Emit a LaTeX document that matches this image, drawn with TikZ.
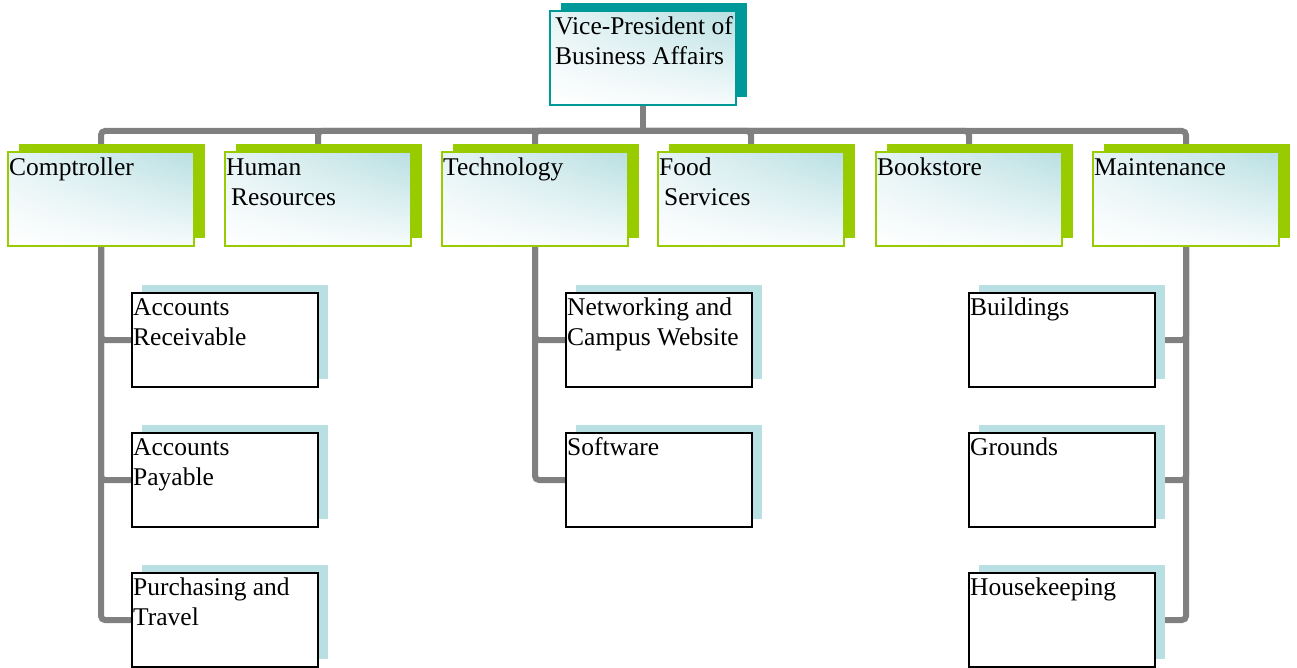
\documentclass[tikz,border=0pt]{standalone}
\usepackage{fontspec}
\setmainfont{Liberation Serif}
\usetikzlibrary{shadings}
\definecolor{lgreen}{RGB}{153,204,0}
\definecolor{vteal}{RGB}{0,153,153}
\definecolor{lteal}{RGB}{184,223,226}
\definecolor{cgray}{RGB}{128,128,128}
\pgfdeclarelayer{background}
\pgfsetlayers{background,main}
\begin{document}
\begin{tikzpicture}[x=1pt,y=-1pt,
 bx/.style={rectangle, anchor=north west, inner sep=0pt, outer sep=0pt, minimum width=186pt, minimum height=94pt},
 gshade/.style={upper left=lteal!35!white, upper right=lteal, lower left=white, lower right=lteal!12!white},
 l2sh/.style={bx, fill=lgreen},
 l2box/.style={bx, draw=lgreen, line width=2pt, gshade},
 vpsh/.style={bx, fill=vteal},
 vpbox/.style={bx, draw=vteal, line width=2pt, gshade},
 chsh/.style={bx, fill=lteal},
 chbox/.style={bx, draw=black, line width=2pt, fill=white},
 lbl/.style={anchor=north west, inner sep=0pt, align=left, font=\fontsize{25.5}{30}\selectfont},
 conn/.style={draw=cgray, line width=6pt, rounded corners=4pt}
]
\useasboundingbox (0,0) rectangle (1297,668);

% top box
\node[vpsh] (vpS) at (561,3) {};
\node[vpbox] (vp) at (550,11) {};
\node[lbl] (vpT) at (555,11) {\rule{0pt}{23pt}Vice-President of\\Business Affairs};

% level 2
\foreach \n/\x in {comp/8, hr/225, tech/442, food/658, book/876, maint/1093} {
  \node[l2sh] (\n S) at (\x+11,144) {};
  \node[l2box] (\n) at (\x,152) {};
}
\node[lbl] (compT) at (9,152) {\rule{0pt}{23pt}Comptroller};
\node[lbl] (hrT) at (226,152) {\rule{0pt}{23pt}Human\\\hspace*{5pt}Resources};
\node[lbl] (techT) at (443,152) {\rule{0pt}{23pt}Technology};
\node[lbl] (foodT) at (659,152) {\rule{0pt}{23pt}Food\\\hspace*{5pt}Services};
\node[lbl] (bookT) at (877,152) {\rule{0pt}{23pt}Bookstore};
\node[lbl] (maintT) at (1094,152) {\rule{0pt}{23pt}Maintenance};

% children
\foreach \n/\x/\y in {ar/132/293, ap/132/433, pt/132/573, net/566/293, sw/566/433, bld/969/293, grd/969/433, hk/969/573} {
  \node[chsh] (\n S) at (\x+10,\y-8) {};
  \node[chbox] (\n) at (\x,\y) {};
}
\node[lbl] (arT) at (133,293) {\rule{0pt}{22pt}Accounts\\Receivable};
\node[lbl] (apT) at (133,433) {\rule{0pt}{22pt}Accounts\\Payable};
\node[lbl] (ptT) at (133,573) {\rule{0pt}{22pt}Purchasing and\\Travel};
\node[lbl] (netT) at (567,293) {\rule{0pt}{22pt}Networking and\\Campus Website};
\node[lbl] (swT) at (567,433) {\rule{0pt}{22pt}Software};
\node[lbl] (bldT) at (970,293) {\rule{0pt}{22pt}Buildings};
\node[lbl] (grdT) at (970,433) {\rule{0pt}{22pt}Grounds};
\node[lbl] (hkT) at (970,573) {\rule{0pt}{22pt}Housekeeping};

\coordinate (bus) at (643,131);

\begin{pgfonlayer}{background}
\draw[conn] (vp.south) -- (bus);
\foreach \n in {comp,hr,tech,food,book,maint} \draw[conn] (\n.north) |- (bus);
\foreach \c in {ar,ap,pt} \draw[conn] (comp.south) |- (\c.west);
\foreach \c in {net,sw} \draw[conn] (tech.south) |- (\c.west);
\foreach \c in {bld,grd,hk} \draw[conn] (maint.south) |- (\c.east);
\end{pgfonlayer}
\end{tikzpicture}
\end{document}
